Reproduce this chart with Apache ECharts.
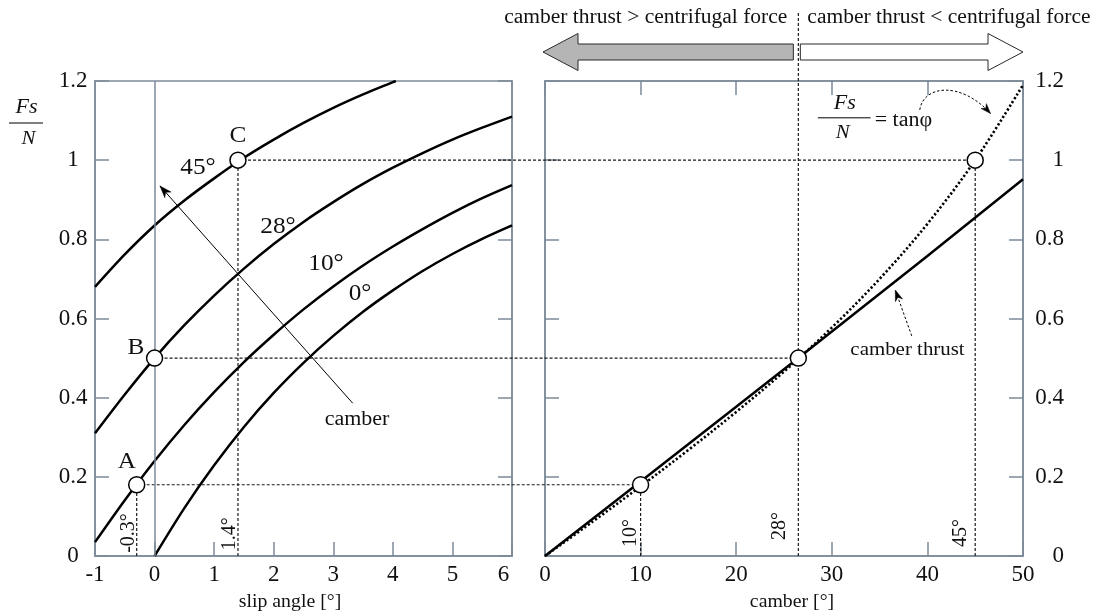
<!DOCTYPE html>
<html>
<head>
<meta charset="utf-8">
<script src="https://cdn.jsdelivr.net/npm/echarts@6/dist/echarts.min.js"></script>
<style>
  html, body { margin: 0; padding: 0; background: #ffffff; }
  #c { width: 1098px; height: 615px; }
</style>
</head>
<body>
<div id="c"></div>
<script>
// Lateral force ratio Fs/N against slip angle, one curve per camber angle
const slip0  = [[0, 0], [0.5, 0.121], [1, 0.229], [1.5, 0.326], [2, 0.412], [2.5, 0.488], [3, 0.556],
                [3.5, 0.617], [4, 0.671], [4.5, 0.72], [5, 0.763], [5.5, 0.801], [6, 0.835]];
const slip10 = [[-1, 0.035], [-0.5, 0.141], [0, 0.24], [0.5, 0.331], [1, 0.414], [1.5, 0.49], [2, 0.559],
                [2.5, 0.623], [3, 0.681], [3.5, 0.734], [4, 0.782], [4.5, 0.826], [5, 0.867], [5.5, 0.904], [6, 0.937]];
const slip28 = [[-1, 0.31], [-0.5, 0.408], [0, 0.5], [0.5, 0.583], [1, 0.658], [1.5, 0.726], [2, 0.788],
                [2.5, 0.844], [3, 0.894], [3.5, 0.94], [4, 0.981], [4.5, 1.018], [5, 1.052], [5.5, 1.082], [6, 1.11]];
const slip45 = [[-1, 0.68], [-0.5, 0.762], [0, 0.835], [0.5, 0.898], [1, 0.954], [1.5, 1.006], [2, 1.052],
                [2.5, 1.094], [3, 1.132], [3.5, 1.166], [4, 1.197], [4.05, 1.2]];

// Marked operating points (slip angle, Fs/N)
const pointA = [-0.3, 0.18];
const pointB = [0, 0.5];
const pointC = [1.4, 1.0];

// Camber angle vs Fs/N: required ratio tanφ and the camber thrust
const tanPhi = [[0, 0], [5, 0.087], [10, 0.176], [15, 0.268], [20, 0.364], [25, 0.466], [30, 0.577],
                [35, 0.7], [40, 0.839], [45, 1.0], [50, 1.19]];
const camberThrust = [[0, 0], [10, 0.188], [20, 0.377], [26.5, 0.5], [40, 0.758], [50, 0.952]];
const balancePoints = [[10, 0.18], [26.5, 0.5], [45, 1.0]];

// Axis ticks
const slipTicks = { min: -1, max: 6, step: 1 };
const camberTicks = { min: 0, max: 50, step: 10 };
const ratioTicks = { min: 0, max: 1.2, step: 0.2 };

const AXIS = '#7c8a98';
const INK = '#111111';
const SERIF = '"Liberation Serif", "Times New Roman", serif';
const TICK_FONT = 23;

const chart = echarts.init(document.getElementById('c'));

function valueAxis(t, extra) {
  return Object.assign({
    type: 'value', min: t.min, max: t.max, interval: t.step, offset: 0,
    axisLine: { show: true, onZero: false, lineStyle: { color: AXIS, width: 1.5 } },
    axisTick: { show: true, inside: true, length: 14, lineStyle: { color: AXIS, width: 1.5 } },
    axisLabel: { show: false },
    splitLine: { show: false }
  }, extra);
}
const tickLabel = (extra) => Object.assign({ show: true, color: INK, fontFamily: SERIF, fontSize: TICK_FONT }, extra);

const curve = (data) => ({
  type: 'line', xAxisIndex: 0, yAxisIndex: 0, data: data,
  showSymbol: false, smooth: 0.3,
  lineStyle: { color: '#000', width: 2.5 }, z: 4, silent: true
});
const rings = (data, xi, yi) => ({
  type: 'scatter', xAxisIndex: xi, yAxisIndex: yi, data: data,
  symbol: 'circle', symbolSize: 16, z: 10, silent: true,
  itemStyle: { color: '#ffffff', borderColor: '#000', borderWidth: 1.5, opacity: 1 }
});

const s0 = curve(slip0);
s0.markLine = {
  silent: true, symbol: 'none', label: { show: false },
  lineStyle: { color: AXIS, type: 'solid', width: 1.5 },
  data: [{ xAxis: 0 }]
};

// The last slip-angle label sits a little left of its tick, clear of the right panel
const slipLabel = tickLabel({
  margin: 7,
  formatter: (v) => (v === slipTicks.max ? '{end|' + v + '}' : String(v)),
  rich: { end: { fontFamily: SERIF, fontSize: TICK_FONT, color: INK, padding: [0, 17, 0, 0] } }
});

chart.setOption({
  animation: false,
  backgroundColor: '#ffffff',
  grid: [
    { left: 95, right: 586, top: 81, bottom: 59, show: true, borderColor: AXIS, borderWidth: 1.5 },
    { left: 545, right: 75, top: 81, bottom: 59, show: true, borderColor: AXIS, borderWidth: 1.5 }
  ],
  xAxis: [
    valueAxis(slipTicks, { gridIndex: 0, position: 'bottom', axisLabel: slipLabel }),
    valueAxis(camberTicks, { gridIndex: 1, position: 'bottom', axisLabel: tickLabel({ margin: 7 }) }),
    valueAxis(camberTicks, { gridIndex: 1, position: 'top' })
  ],
  yAxis: [
    valueAxis(ratioTicks, { gridIndex: 0, position: 'left', axisLabel: tickLabel({ align: 'center', margin: 22 }) }),
    valueAxis(ratioTicks, { gridIndex: 0, position: 'right' }),
    valueAxis(ratioTicks, { gridIndex: 1, position: 'left' }),
    valueAxis(ratioTicks, { gridIndex: 1, position: 'right', axisLabel: tickLabel({ align: 'right', margin: 41 }) })
  ],
  series: [
    s0,
    curve(slip10),
    curve(slip28),
    curve(slip45),
    rings([pointA, pointB, pointC], 0, 0),
    {
      type: 'line', xAxisIndex: 1, yAxisIndex: 2, data: camberThrust, showSymbol: false,
      lineStyle: { color: '#000', width: 2.5 }, z: 4, silent: true
    },
    {
      type: 'line', xAxisIndex: 1, yAxisIndex: 2, data: tanPhi, showSymbol: false,
      smooth: 0.35,
      lineStyle: { color: '#000', width: 2.6, type: [2.2, 2.2] }, z: 5, silent: true
    },
    rings(balancePoints, 1, 2)
  ]
});

// Annotations placed through the two grids' own scales
const L = (x, y) => chart.convertToPixel({ seriesIndex: 0 }, [x, y]);
const R = (x, y) => chart.convertToPixel({ seriesIndex: 5 }, [x, y]);

const g = [];
const dash = (p, q, z) => g.push({
  type: 'line', silent: true, z: z || 1,
  shape: { x1: p[0], y1: p[1], x2: q[0], y2: q[1] },
  style: { stroke: '#1a1a1a', lineWidth: 1.2, lineDash: [3, 2] }
});
function text(p, s, o) {
  o = o || {};
  g.push({
    type: 'text', silent: true, z: 20, x: p[0], y: p[1],
    rotation: o.rot || 0, scaleX: o.sx === undefined ? 1.1 : o.sx,
    style: {
      text: s, fill: INK, fontFamily: SERIF, fontSize: o.size || 20,
      fontStyle: o.italic ? 'italic' : 'normal',
      align: o.align || 'center', verticalAlign: 'middle',
      textAlign: o.align || 'center', textVerticalAlign: 'middle'
    }
  });
}
function head(from, to, len, half, filled, z) {
  const dx = to[0] - from[0], dy = to[1] - from[1];
  const d = Math.hypot(dx, dy), ux = dx / d, uy = dy / d, nx = -uy, ny = ux;
  const bx = to[0] - ux * len, by = to[1] - uy * len;
  const nb = [to[0] - ux * len * 0.7, to[1] - uy * len * 0.7];
  g.push({
    type: 'polygon', silent: true, z: z || 6,
    shape: { points: [to, [bx + nx * half, by + ny * half], nb, [bx - nx * half, by - ny * half]] },
    style: { fill: filled, stroke: filled, lineWidth: 0.5 }
  });
}

// Dotted guide lines linking the operating points across both panels
dash(L(pointA[0], pointA[1]), R(balancePoints[0][0], balancePoints[0][1]));
dash(L(pointB[0], pointB[1]), R(balancePoints[1][0], balancePoints[1][1]));
dash(L(pointC[0], pointC[1]), R(balancePoints[2][0], balancePoints[2][1]));
dash(L(pointA[0], 0), L(pointA[0], pointA[1]));
dash(L(pointC[0], 0), L(pointC[0], pointC[1]));
dash(R(balancePoints[0][0], 0), R(balancePoints[0][0], balancePoints[0][1]));
dash(R(balancePoints[2][0], 0), R(balancePoints[2][0], balancePoints[2][1]));
const divider = R(balancePoints[1][0], 0);
dash(divider, [divider[0], 12]);

// Left panel labels
text(L(-0.463, 0.237), 'A', { size: 23 });
text(L(-0.312, 0.525), 'B', { size: 23 });
text(L(1.40, 1.061), 'C', { size: 23 });
text(L(0.729, 0.980), '45°', { size: 23 });
text(L(2.072, 0.831), '28°', { size: 23 });
text(L(2.878, 0.738), '10°', { size: 23 });
text(L(3.449, 0.662), '0°', { size: 23 });
text(L(3.398, 0.344), 'camber', { size: 20 });
text(L(-0.438, 0.058), '-0.3°', { size: 20, rot: Math.PI / 2, sx: 1 });
text(L(1.258, 0.056), '1.4°', { size: 20, rot: Math.PI / 2, sx: 1 });

// Camber direction arrow
const ca0 = L(3.326, 0.386), ca1 = L(0.091, 0.935);
g.push({ type: 'line', silent: true, z: 6, shape: { x1: ca0[0], y1: ca0[1], x2: ca1[0], y2: ca1[1] }, style: { stroke: '#000', lineWidth: 1 } });
head(ca0, ca1, 12, 4.2, '#000');

// Left axis title Fs/N and x-axis titles
text([26.5, 108], 'Fs', { size: 20, italic: true });
g.push({ type: 'line', silent: true, z: 20, shape: { x1: 9, y1: 123, x2: 43, y2: 123 }, style: { stroke: '#000', lineWidth: 1 } });
text([28.5, 139], 'N', { size: 19, italic: true });
text([290, 602], 'slip angle [°]', { size: 18 });
text([792, 602], 'camber [°]', { size: 18 });

// Right panel labels
text(R(8.96, 0.058), '10°', { size: 20, rot: Math.PI / 2, sx: 1 });
text(R(24.58, 0.076), '28°', { size: 20, rot: Math.PI / 2, sx: 1 });
text(R(43.44, 0.058), '45°', { size: 20, rot: Math.PI / 2, sx: 1 });
text(R(37.92, 0.520), 'camber thrust', { size: 19 });
const ct0 = R(38.36, 0.556), ct1 = R(36.64, 0.672);
g.push({ type: 'line', silent: true, z: 6, shape: { x1: ct0[0], y1: ct0[1], x2: ct1[0], y2: ct1[1] }, style: { stroke: '#000', lineWidth: 1, lineDash: [2.5, 2] } });
head(ct0, ct1, 11, 3.8, '#000');

// Fs/N = tanφ with its curved pointer
text(R(31.35, 1.142), 'Fs', { size: 20, italic: true });
const fl0 = R(28.54, 1.107), fl1 = R(34.06, 1.107);
g.push({ type: 'line', silent: true, z: 20, shape: { x1: fl0[0], y1: fl0[1], x2: fl1[0], y2: fl1[1] }, style: { stroke: '#000', lineWidth: 1 } });
text(R(31.15, 1.069), 'N', { size: 19, italic: true });
text(R(34.48, 1.099), '= tanφ', { size: 20, align: 'left' });
const b0 = R(39.2, 1.127), b1 = R(39.6, 1.19), b2 = R(43.5, 1.2), b3 = R(46.6, 1.118);
g.push({
  type: 'bezierCurve', silent: true, z: 6,
  shape: { x1: b0[0], y1: b0[1], cpx1: b1[0], cpy1: b1[1], cpx2: b2[0], cpy2: b2[1], x2: b3[0], y2: b3[1] },
  style: { stroke: '#000', lineWidth: 1, lineDash: [2.5, 2], fill: null }
});
head(b2, b3, 10, 3.6, '#000');

// Top banner: two direction arrows split at the balance camber
const xa = R(0, 0)[0] - 2, xb = R(50, 0)[0], xd = divider[0];
const yc = 52, bh = 8, hh = 18.5, hl = 35;
g.push({
  type: 'polygon', silent: true, z: 6,
  shape: { points: [[xa, yc], [xa + hl, yc - hh], [xa + hl, yc - bh], [xd - 5, yc - bh], [xd - 5, yc + bh], [xa + hl, yc + bh], [xa + hl, yc + hh]] },
  style: { fill: '#b5b5b5', stroke: '#2a2a2a', lineWidth: 1 }
});
g.push({
  type: 'polygon', silent: true, z: 6,
  shape: { points: [[xb, yc], [xb - hl, yc - hh], [xb - hl, yc - bh], [xd + 2, yc - bh], [xd + 2, yc + bh], [xb - hl, yc + bh], [xb - hl, yc + hh]] },
  style: { fill: '#ffffff', stroke: '#2a2a2a', lineWidth: 1 }
});
text([xd - 11, 18], 'camber thrust > centrifugal force', { size: 20, align: 'right', sx: 1.075 });
text([xd + 9, 18], 'camber thrust < centrifugal force', { size: 20, align: 'left', sx: 1.075 });

chart.setOption({ graphic: { elements: g } });
</script>
</body>
</html>
